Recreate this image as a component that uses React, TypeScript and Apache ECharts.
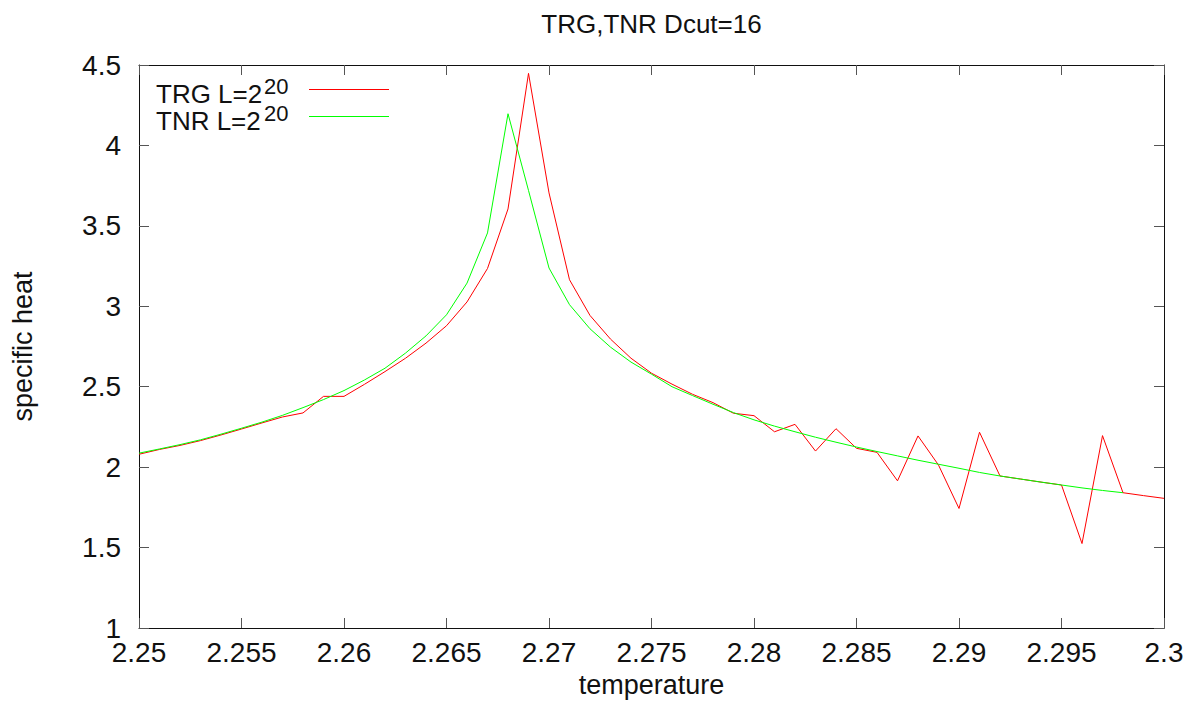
import React, { useEffect, useRef } from "react";
import * as echarts from "echarts";

// Temperature grid (x) shared by both runs
const temperature = [
  2.25, 2.251, 2.252, 2.253, 2.254, 2.255, 2.256, 2.257, 2.258, 2.259,
  2.26, 2.261, 2.262, 2.263, 2.264, 2.265, 2.266, 2.267, 2.268, 2.269,
  2.27, 2.271, 2.272, 2.273, 2.274, 2.275, 2.276, 2.277, 2.278, 2.279,
  2.28, 2.281, 2.282, 2.283, 2.284, 2.285, 2.286, 2.287, 2.288, 2.289,
  2.29, 2.291, 2.292, 2.293, 2.294, 2.295, 2.296, 2.297, 2.298, 2.299,
  2.3,
];

// Specific heat from TRG, L = 2^20
const trgHeat = [
  2.08, 2.11, 2.135, 2.165, 2.2, 2.237, 2.275, 2.312, 2.337, 2.44,
  2.44, 2.515, 2.594, 2.677, 2.771, 2.879, 3.027, 3.235, 3.605, 4.448,
  3.705, 3.165, 2.943, 2.796, 2.677, 2.584, 2.516, 2.453, 2.401, 2.335,
  2.32, 2.22, 2.266, 2.1, 2.239, 2.117, 2.092, 1.915, 2.194, 2.013,
  1.743, 2.217, 1.945, 1.926, 1.907, 1.889, 1.525, 2.196, 1.841, 1.823,
  1.806,
];

// Specific heat from TNR, L = 2^20 (runs up to T = 2.298)
const tnrHeat = [
  2.087, 2.113, 2.14, 2.17, 2.205, 2.242, 2.28, 2.322, 2.37, 2.42,
  2.476, 2.542, 2.615, 2.709, 2.816, 2.947, 3.144, 3.456, 4.197, 3.72,
  3.238, 3.01, 2.86, 2.746, 2.653, 2.578, 2.5, 2.445, 2.391, 2.339,
  2.294, 2.255, 2.22, 2.186, 2.155, 2.125, 2.097, 2.07, 2.043, 2.018,
  1.993, 1.967, 1.945, 1.926, 1.907, 1.889, 1.871, 1.855, 1.841,
];

const FONT = "'Liberation Sans', Arial, sans-serif";

const pairs = (ys: number[]) => ys.map((y, i) => [temperature[i], y]);

const xLabel = (v: number) => String(parseFloat(v.toFixed(3)));
const yLabel = (v: number) => String(parseFloat(v.toFixed(2)));

export default function App() {
  const ref = useRef<HTMLDivElement>(null);

  useEffect(() => {
    if (!ref.current) return;
    const chart = echarts.init(ref.current, undefined, { renderer: "svg" });

    const axisLine = { show: true, lineStyle: { color: "#111", width: 1 } };
    const axisTick = { show: true, inside: true, length: 10, lineStyle: { color: "#555", width: 1 } };
    const textColor = "#111";

    chart.setOption({
      animation: false,
      backgroundColor: "#fff",
      grid: { left: 139, right: 36, top: 65, bottom: 81, containLabel: false },
      xAxis: [
        {
          type: "value",
          min: 2.25,
          max: 2.3,
          interval: 0.005,
          position: "bottom",
          axisLine,
          axisTick,
          splitLine: { show: false },
          axisLabel: {
            margin: 13,
            fontFamily: FONT,
            fontSize: 28,
            lineHeight: 22,
            color: textColor,
            formatter: xLabel,
          },
        },
        {
          type: "value",
          min: 2.25,
          max: 2.3,
          interval: 0.005,
          position: "top",
          axisLine,
          axisTick,
          splitLine: { show: false },
          axisLabel: { show: false },
        },
      ],
      yAxis: [
        {
          type: "value",
          min: 1,
          max: 4.5,
          interval: 0.5,
          position: "left",
          axisLine,
          axisTick,
          splitLine: { show: false },
          axisLabel: {
            margin: 18,
            fontFamily: FONT,
            fontSize: 28,
            lineHeight: 22,
            color: textColor,
            formatter: yLabel,
          },
        },
        {
          type: "value",
          min: 1,
          max: 4.5,
          interval: 0.5,
          position: "right",
          axisLine,
          axisTick,
          splitLine: { show: false },
          axisLabel: { show: false },
        },
      ],
      series: [
        {
          name: "TRG L=2^20",
          type: "line",
          data: pairs(trgHeat),
          showSymbol: false,
          symbol: "none",
          lineStyle: { color: "#ff0000", width: 1 },
          itemStyle: { color: "#ff0000" },
        },
        {
          name: "TNR L=2^20",
          type: "line",
          data: pairs(tnrHeat),
          showSymbol: false,
          symbol: "none",
          lineStyle: { color: "#00ff00", width: 1 },
          itemStyle: { color: "#00ff00" },
        },
      ],
      graphic: [
        {
          type: "text",
          x: 651.5,
          y: 24,
          style: {
            text: "TRG,TNR Dcut=16",
            font: `26px ${FONT}`,
            fill: textColor,
            align: "center",
            verticalAlign: "middle",
          },
        },
        {
          type: "text",
          x: 651.5,
          y: 685,
          style: {
            text: "temperature",
            font: `27px ${FONT}`,
            fill: textColor,
            align: "center",
            verticalAlign: "middle",
          },
        },
        {
          type: "text",
          x: 23,
          y: 346.5,
          rotation: Math.PI / 2,
          style: {
            text: "specific heat",
            font: `27px ${FONT}`,
            fill: textColor,
            align: "center",
            verticalAlign: "middle",
          },
        },
        // key: label text followed by a line sample
        {
          type: "text",
          x: 156,
          y: 94,
          style: { text: "TRG L=2", font: `26px ${FONT}`, fill: textColor, align: "left", verticalAlign: "middle" },
        },
        {
          type: "text",
          x: 264,
          y: 86,
          style: { text: "20", font: `22px ${FONT}`, fill: textColor, align: "left", verticalAlign: "middle" },
        },
        {
          type: "line",
          shape: { x1: 309, y1: 89.5, x2: 389, y2: 89.5 },
          style: { stroke: "#ff0000", lineWidth: 1 },
        },
        {
          type: "text",
          x: 156,
          y: 121,
          style: { text: "TNR L=2", font: `26px ${FONT}`, fill: textColor, align: "left", verticalAlign: "middle" },
        },
        {
          type: "text",
          x: 264,
          y: 113,
          style: { text: "20", font: `22px ${FONT}`, fill: textColor, align: "left", verticalAlign: "middle" },
        },
        {
          type: "line",
          shape: { x1: 309, y1: 116.5, x2: 389, y2: 116.5 },
          style: { stroke: "#00ff00", lineWidth: 1 },
        },
      ],
    });

    return () => chart.dispose();
  }, []);

  return (
    <div
      ref={ref}
      style={{ position: "absolute", left: 0, top: 0, width: 1200, height: 709 }}
    />
  );
}
